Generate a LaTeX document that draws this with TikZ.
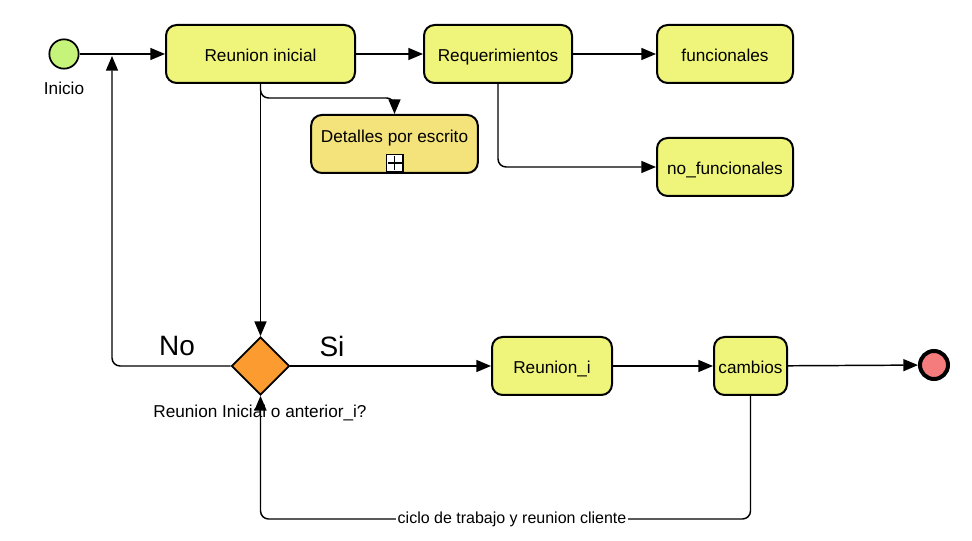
\documentclass[tikz,border=0pt]{standalone}
\usepackage{fontspec}
\setmainfont{Liberation Sans}
\usetikzlibrary{shapes.geometric,arrows.meta}
\definecolor{taskyellow}{HTML}{EFF57A}
\definecolor{subyellow}{HTML}{F4E27B}
\definecolor{startgreen}{HTML}{C6F47A}
\definecolor{gworange}{HTML}{FB9B30}
\definecolor{endred}{HTML}{F47C7C}

\begin{document}
\begin{tikzpicture}[x=0.75pt, y=-0.75pt,
    every node/.style={font=\fontsize{12.9}{15}\selectfont},
    task/.style={rectangle, rounded corners=8pt, draw, line width=1.5pt, fill=taskyellow, minimum height=43.5pt, inner sep=2pt, text height=11pt, text depth=0pt},
    subtask/.style={task, fill=subyellow, text height=9pt, text depth=10.5pt},
    plusbox/.style={rectangle, draw, line width=1pt, fill=white, minimum size=12.5pt, inner sep=0pt},
    startev/.style={circle, draw, line width=1.3pt, fill=startgreen, minimum size=22pt, inner sep=0pt},
    endev/.style={circle, draw, line width=3pt, fill=endred, minimum size=21pt, inner sep=0pt},
    gateway/.style={diamond, draw, line width=1.3pt, fill=gworange, minimum width=43.5pt, minimum height=43.5pt, inner sep=0pt},
    big/.style={font=\fontsize{21}{24}\selectfont},
    small/.style={font=\fontsize{12}{14}\selectfont},
    flow/.style={line width=1.1pt, rounded corners=6pt, -{Triangle[length=11pt,width=9pt]}}]
    \useasboundingbox (0,0) rectangle (972,541);

    \node[startev] (inicio) at (64,54) {};
    \node (iniciolbl) at (64,88) {Inicio};
    \node[task, minimum width=141.75pt] (reunion) at (260.5,54) {Reunion inicial};
    \node[task, minimum width=111pt] (req) at (498,54) {Requerimientos};
    \node[task, minimum width=102pt] (func) at (725,54) {funcionales};
    \node[subtask, minimum width=125pt] (det) at (394.5,144) {Detalles por escrito};
    \node[plusbox] (detplus) at (394.5,163) {};
    \draw[line width=1pt] ([yshift=-1.5pt]detplus.north) -- ([yshift=1.5pt]detplus.south);
    \draw[line width=1pt] ([xshift=1.5pt]detplus.west) -- ([xshift=-1.5pt]detplus.east);
    \node[task, minimum width=102pt] (nofunc) at (725,167) {no\_funcionales};

    \node[gateway] (gw) at (260.5,366) {};
    \node (gwlbl) at (260,413) {Reunion Inicial o anterior\_i?};
    \node[big] (no) at (177,346) {No};
    \node[big] (si) at (332,346) {Si};
    \node[task, minimum width=90pt] (ri) at (552,366) {Reunion\_i};
    \node[task, minimum width=54.75pt] (cambios) at (750.5,366) {cambios};
    \node[endev] (fin) at (934,365) {};

    \coordinate (loopin) at (112,56);
    \coordinate (detturn) at (394.5,98);
    \coordinate (cyc) at (512,519);

    \draw[flow] (inicio) -- (reunion);
    \draw[flow] (reunion) -- (req);
    \draw[flow] (req) -- (func);
    \draw[flow] (req.south) |- (nofunc.west);
    \draw[flow] (reunion.south) |- (detturn) [sharp corners] -- (det.north);
    \draw[flow] (reunion.south) -- (gw.north);
    \draw[flow] (gw.west) -| (loopin);
    \draw[flow] (gw.east) -- (ri);
    \draw[flow] (ri) -- (cambios);
    \draw[flow] (cambios) -- (fin);
    \draw[flow] (cambios.south) |- (cyc) -| (gw.south);
    \node[small, fill=white, inner sep=1pt] (cyclbl) at (cyc) {ciclo de trabajo y reunion cliente};
  \end{tikzpicture}
\end{document}
